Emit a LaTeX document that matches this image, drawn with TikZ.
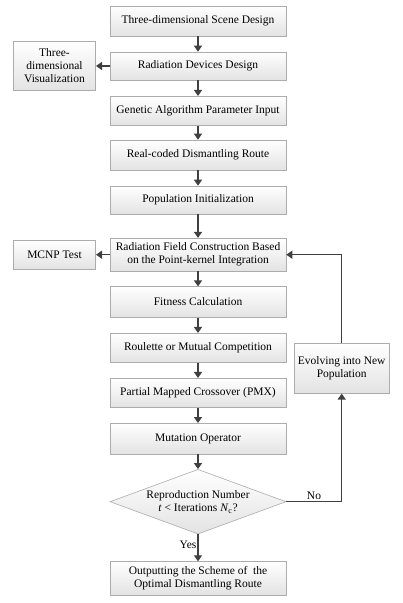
\documentclass[tikz,border=0pt]{standalone}
\usepackage{fontspec}
\setmainfont{Liberation Serif}
\usetikzlibrary{shapes.geometric,arrows.meta}
\tikzset{
  box/.style={draw=gray!65, line width=0.6pt, top color=white, bottom color=gray!22, align=center, inner sep=1pt, font=\fontsize{11.5}{13}\selectfont},
  mainbox/.style={box, minimum width=176pt},
  arr/.style={draw=black!75, line width=1.3pt, -{Triangle[length=6pt,width=8pt]}},
  lbl/.style={font=\fontsize{11.5}{13}\selectfont, inner sep=1pt}
}
\begin{document}
\begin{tikzpicture}
\useasboundingbox[fill=white] (0,0) rectangle (403pt,603pt);
\node[mainbox, minimum height=30pt] (b1) at (198pt,582pt) {Three-dimensional Scene Design};
\node[mainbox, minimum height=28pt] (b2) at (198pt,537pt) {Radiation Devices Design};
\node[mainbox, minimum height=29pt] (b3) at (198pt,492.2pt) {Genetic Algorithm Parameter Input};
\node[mainbox, minimum height=30pt] (b4) at (198pt,448pt) {Real-coded Dismantling Route};
\node[mainbox, minimum height=28pt] (b5) at (198pt,403pt) {Population Initialization};
\node[mainbox, minimum height=33pt] (b6) at (198pt,348.3pt) {Radiation Field Construction Based\\on the Point-kernel Integration};
\node[mainbox, minimum height=30.6pt] (b7) at (198pt,301pt) {Fitness Calculation};
\node[mainbox, minimum height=29pt] (b8) at (198pt,255.2pt) {Roulette or Mutual Competition};
\node[mainbox, minimum height=29pt] (b9) at (198pt,210.2pt) {Partial Mapped Crossover (PMX)};
\node[mainbox, minimum height=30.7pt] (b10) at (198pt,164.3pt) {Mutation Operator};
\node[diamond, draw=gray!65, line width=0.6pt, top color=white, bottom color=gray!22, minimum width=176pt, minimum height=64.7pt, inner sep=0pt] (d) at (198pt,101.3pt) {};
\node[lbl, align=center] (dt) at (d.center) {Reproduction Number\\\textit{t} < Iterations \textit{N}\textsubscript{c}?};
\node[mainbox, minimum height=33.3pt] (b11) at (198pt,24.7pt) {Outputting the Scheme of~ the\\Optimal Dismantling Route};
\node[box, minimum width=82.4pt, minimum height=49.4pt] (vis) at (54.5pt,537pt) {Three-\\dimensional\\Visualization};
\node[box, minimum width=82.4pt, minimum height=28.6pt] (mcnp) at (54.5pt,348.3pt) {MCNP Test};
\node[box, minimum width=94.7pt, minimum height=50pt] (evo) at (341.7pt,234.7pt) {Evolving into New\\Population};
\draw[arr] (b1) -- (b2);
\draw[arr] (b2) -- (b3);
\draw[arr] (b3) -- (b4);
\draw[arr] (b4) -- (b5);
\draw[arr] (b5) -- (b6);
\draw[arr] (b6) -- (b7);
\draw[arr] (b7) -- (b8);
\draw[arr] (b8) -- (b9);
\draw[arr] (b9) -- (b10);
\draw[arr] (b10) -- (d);
\draw[arr] (d) -- node[lbl, left, pos=0.4] {Yes} (b11);
\draw[arr] (b2) -- (vis);
\draw[arr] (b6) -- (mcnp);
\draw[arr] (d.east) -| node[lbl, above, pos=0.25] {No} (evo.south);
\draw[arr] (evo.north) |- (b6.east);
\end{tikzpicture}
\end{document}
